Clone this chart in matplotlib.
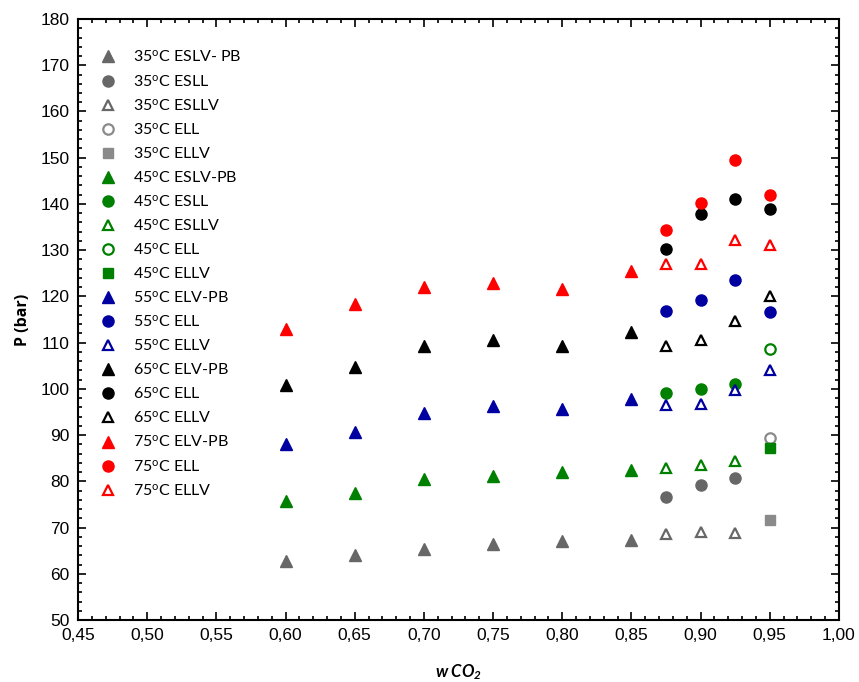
import numpy as np
import matplotlib
matplotlib.use("Agg")
import matplotlib.pyplot as plt
from matplotlib.ticker import MultipleLocator, FormatStrFormatter, FuncFormatter

# w CO2 positions
x_pb = [0.60, 0.65, 0.70, 0.75, 0.80, 0.85]
x_3 = [0.875, 0.90, 0.925]
x_4 = [0.875, 0.90, 0.925, 0.95]
x_end = [0.95]

# 35 C
p35_eslv_pb = [62.7, 64.0, 65.4, 66.4, 67.0, 67.3]
p35_esll = [76.6, 79.2, 80.8]
p35_esllv = [68.7, 69.0, 68.9]
p35_ell = [89.3]
p35_ellv = [71.6]

# 45 C
p45_eslv_pb = [75.7, 77.5, 80.6, 81.2, 82.1, 82.5]
p45_esll = [99.0, 99.9, 101.0]
p45_esllv = [82.8, 83.6, 84.4]
p45_ell = [108.7]
p45_ellv = [87.2]

# 55 C
p55_elv_pb = [88.0, 90.6, 94.8, 96.2, 95.6, 97.8]
p55_ell = [116.8, 119.2, 123.6, 116.6]
p55_ellv = [96.6, 96.7, 99.7, 104.1]

# 65 C
p65_elv_pb = [100.8, 104.7, 109.2, 110.5, 109.3, 112.3]
p65_ell = [130.3, 137.8, 141.1, 139.0]
p65_ellv = [109.2, 110.6, 114.6, 120.0]

# 75 C
p75_elv_pb = [113.0, 118.3, 122.0, 123.0, 121.7, 125.6]
p75_ell = [134.4, 140.1, 149.6, 142.0]
p75_ellv = [127.0, 127.0, 132.3, 131.1]

gray = '#676767'
green = '#008000'
blue = '#0000a0'
black = '#000000'
red = '#ff0000'

deg = r'$^{\mathrm{o}}$'

# (x, y, label, marker, color, filled)
series = [
    (x_pb, p35_eslv_pb, '35' + deg + 'C ESLV- PB', '^', gray, True),
    (x_3, p35_esll, '35' + deg + 'C ESLL', 'o', gray, True),
    (x_3, p35_esllv, '35' + deg + 'C ESLLV', '^', gray, False),
    (x_end, p35_ell, '35' + deg + 'C ELL', 'o', '#8a8a8a', False),
    (x_end, p35_ellv, '35' + deg + 'C ELLV', 's', '#8a8a8a', True),
    (x_pb, p45_eslv_pb, '45' + deg + 'C ESLV-PB', '^', green, True),
    (x_3, p45_esll, '45' + deg + 'C ESLL', 'o', green, True),
    (x_3, p45_esllv, '45' + deg + 'C ESLLV', '^', green, False),
    (x_end, p45_ell, '45' + deg + 'C ELL', 'o', green, False),
    (x_end, p45_ellv, '45' + deg + 'C ELLV', 's', green, True),
    (x_pb, p55_elv_pb, '55' + deg + 'C ELV-PB', '^', blue, True),
    (x_4, p55_ell, '55' + deg + 'C ELL', 'o', blue, True),
    (x_4, p55_ellv, '55' + deg + 'C ELLV', '^', blue, False),
    (x_pb, p65_elv_pb, '65' + deg + 'C ELV-PB', '^', black, True),
    (x_4, p65_ell, '65' + deg + 'C ELL', 'o', black, True),
    (x_4, p65_ellv, '65' + deg + 'C ELLV', '^', black, False),
    (x_pb, p75_elv_pb, '75' + deg + 'C ELV-PB', '^', red, True),
    (x_4, p75_ell, '75' + deg + 'C ELL', 'o', red, True),
    (x_4, p75_ellv, '75' + deg + 'C ELLV', '^', red, False),
]

plt.rcParams['mathtext.fontset'] = 'custom'
plt.rcParams['mathtext.rm'] = 'Lato'
plt.rcParams['mathtext.it'] = 'Lato:italic'
plt.rcParams['mathtext.bf'] = 'Lato:bold:italic'

fig = plt.figure(figsize=(8.59, 6.82), dpi=100)
ax = fig.add_axes([0.0908, 0.0909, 0.8859, 0.8812])

for xs, ys, label, marker, color, filled in series:
    if filled:
        ax.plot(xs, ys, linestyle='none', marker=marker, color=color,
                markersize=8 if marker != 's' else 7.5, label=label)
    else:
        ax.plot(xs, ys, linestyle='none', marker=marker, markerfacecolor='white',
                markeredgecolor=color, markeredgewidth=1.6,
                markersize=7 if marker == '^' else 7.5, label=label)

ax.set_xlim(0.45, 1.00)
ax.set_ylim(50, 180)
ax.xaxis.set_major_locator(MultipleLocator(0.05))
ax.xaxis.set_minor_locator(MultipleLocator(0.01))
ax.yaxis.set_major_locator(MultipleLocator(10))
ax.yaxis.set_minor_locator(MultipleLocator(2))
ax.xaxis.set_major_formatter(FuncFormatter(lambda v, p: ('%.2f' % v).replace('.', ',')))
ax.yaxis.set_major_formatter(FormatStrFormatter('%d'))
ax.tick_params(which='both', direction='in', top=True, right=True, width=1.2)
ax.tick_params(which='major', length=6, labelsize=12.5, pad=6)
ax.tick_params(which='minor', length=3)
for lab in ax.get_xticklabels() + ax.get_yticklabels():
    lab.set_family('Liberation Sans')
for s in ax.spines.values():
    s.set_linewidth(1.5)

ax.set_ylabel('P (bar)', fontfamily='Open Sans', fontweight='bold', fontsize=11.5, labelpad=7)
ax.set_xlabel(r'w CO$_\mathbf{2}$', fontfamily='Lato', fontweight='bold',
              fontstyle='italic', fontsize=12, labelpad=14)

leg = ax.legend(loc='upper left', frameon=False, prop={'family': 'Lato', 'size': 11.5},
                handletextpad=1.1, labelspacing=0.505, borderaxespad=0.2,
                bbox_to_anchor=(0.016, 0.966), handlelength=1.0)

fig.savefig('out.png', dpi=100)
